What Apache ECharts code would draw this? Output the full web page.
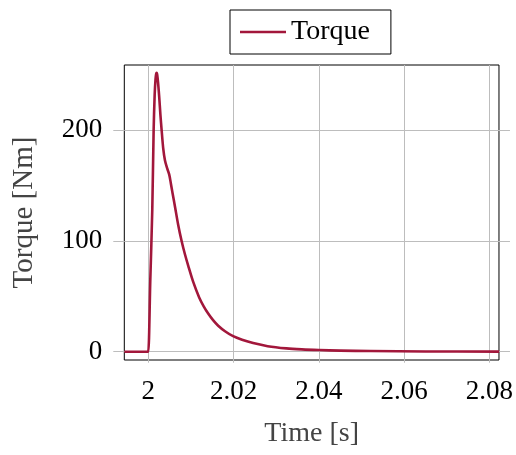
<!DOCTYPE html>
<html>
<head>
<meta charset="utf-8">
<script src="https://cdn.jsdelivr.net/npm/echarts@6/dist/echarts.min.js"></script>
<style>
html,body{margin:0;padding:0;background:#fff;}
#chart{width:516px;height:455px;}
</style>
</head>
<body>
<div id="chart"></div>
<script>
const time = [1.9944, 1.9998, 2.0000, 2.00047, 2.00094, 2.00126, 2.00150, 2.00170, 2.00185, 2.00197, 2.00210, 2.00230, 2.00257, 2.00285, 2.00314, 2.00350, 2.00391, 2.00440, 2.00492, 2.00530, 2.00571, 2.00627, 2.00700, 2.00782, 2.00860, 2.00938, 2.01050, 2.01194, 2.01300, 2.01405, 2.01520, 2.0164, 2.0180, 2.0199, 2.0220, 2.0246, 2.0280, 2.0324, 2.0360, 2.0400, 2.0450, 2.0521, 2.0650, 2.0823];
const torque = [0, 0, 0, 64, 128, 200, 232, 246, 251, 252, 250, 243, 230, 214, 200, 184, 173, 166, 160, 152, 143, 131, 115, 100, 88, 77.5, 63.5, 49, 41, 34.5, 28.5, 23.5, 18.5, 14, 10.8, 7.8, 5.0, 3.0, 2.1, 1.5, 1.0, 0.6, 0.2, 0.05];
const xTicks = [2, 2.02, 2.04, 2.06, 2.08];
const yTicks = [0, 100, 200];
const seriesName = 'Torque';
const xName = 'Time [s]';
const yName = 'Torque [Nm]';

const FONT = 'Liberation Serif';
const GRIDC = '#bdbdbd';
const LINEC = '#A2173B';
const xMin = 1.99438, xMax = 2.08225, yMin = -7.5, yMax = 259;

const chart = echarts.init(document.getElementById('chart'), null, {renderer: 'canvas'});
const fmt = v => String(parseFloat((+v).toFixed(3)));
chart.setOption({
  animation: false,
  backgroundColor: '#fff',
  legend: {
    data: [seriesName],
    left: 230, top: 10,
    backgroundColor: '#fff',
    borderColor: '#000', borderWidth: 1, borderRadius: 0,
    padding: [8, 21, 8, 10],
    icon: 'rect', itemWidth: 46, itemHeight: 2.6,
    textStyle: {fontFamily: FONT, fontSize: 28, color: '#000'}
  },
  grid: {
    left: 124.3, right: 16.7, top: 65, bottom: 95,
    show: true, borderColor: '#000', borderWidth: 1, backgroundColor: 'transparent'
  },
  xAxis: [{
    type: 'value', min: xMin, max: xMax, position: 'bottom',
    axisLine: {show: false},
    axisTick: {show: true, customValues: xTicks, inside: false, length: 11, lineStyle: {color: GRIDC}},
    axisLabel: {customValues: xTicks, margin: 18, fontFamily: FONT, fontSize: 27, color: '#000', formatter: fmt},
    splitLine: {show: true, lineStyle: {color: GRIDC, width: 1}},
    name: xName, nameLocation: 'middle', nameGap: 60,
    nameTextStyle: {fontFamily: FONT, fontSize: 28, color: '#444'}
  }, {
    type: 'value', min: xMin, max: xMax, position: 'top',
    axisLine: {show: false},
    axisTick: {show: true, customValues: xTicks, inside: false, length: 11, lineStyle: {color: GRIDC}},
    axisLabel: {show: false},
    splitLine: {show: false}
  }],
  yAxis: [{
    type: 'value', min: yMin, max: yMax, position: 'left',
    axisLine: {show: false},
    axisTick: {show: true, customValues: yTicks, inside: false, length: 11, lineStyle: {color: GRIDC}},
    axisLabel: {customValues: yTicks, margin: 22, fontFamily: FONT, fontSize: 27, color: '#000', formatter: fmt},
    splitLine: {show: true, lineStyle: {color: GRIDC, width: 1}},
    name: yName, nameLocation: 'middle', nameGap: 85,
    nameTextStyle: {fontFamily: FONT, fontSize: 29, color: '#444'}
  }, {
    type: 'value', min: yMin, max: yMax, position: 'right',
    axisLine: {show: false},
    axisTick: {show: true, customValues: yTicks, inside: false, length: 11, lineStyle: {color: GRIDC}},
    axisLabel: {show: false},
    splitLine: {show: false}
  }],
  series: [{
    name: seriesName, type: 'line', xAxisIndex: 0, yAxisIndex: 0,
    data: time.map((t, i) => [t, torque[i]]),
    showSymbol: false, symbol: 'none',
    smooth: 0.3,
    lineStyle: {color: LINEC, width: 2.6, join: 'round'},
    itemStyle: {color: LINEC},
    clip: true
  }]
});
</script>
</body>
</html>
